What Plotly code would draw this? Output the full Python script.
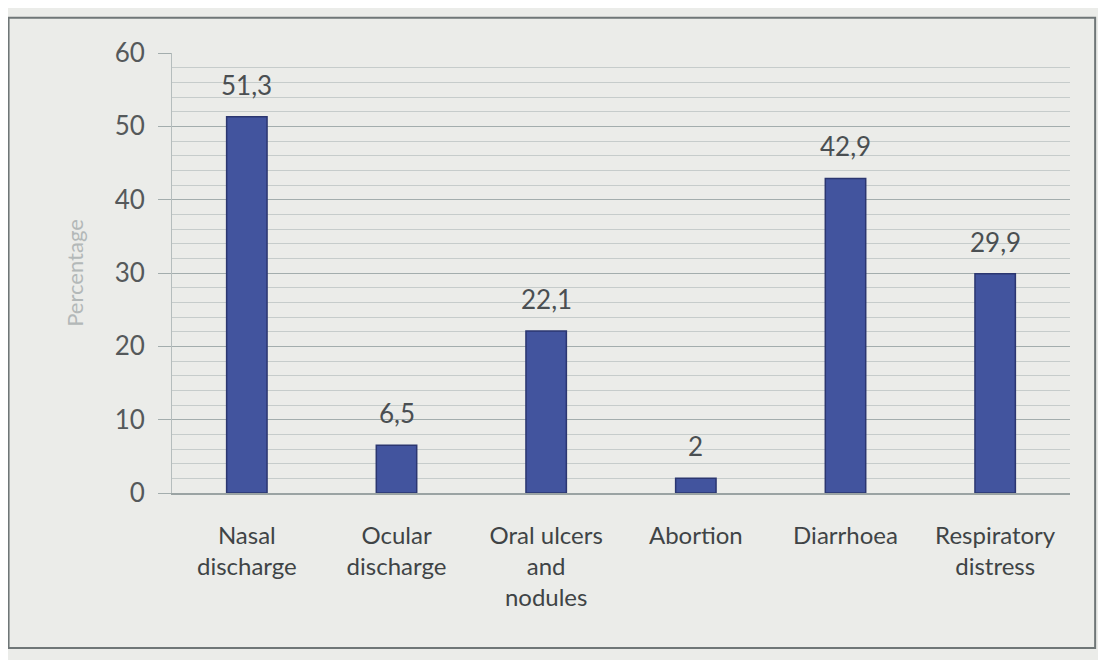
import plotly.graph_objects as go

categories = ["Nasal<br>discharge", "Ocular<br>discharge", "Oral ulcers<br>and<br>nodules",
              "Abortion", "Diarrhoea", "Respiratory<br>distress"]
values = [51.3, 6.5, 22.1, 2, 42.9, 29.9]
labels = ["51,3", "6,5", "22,1", "2", "42,9", "29,9"]
y_ticks = [0, 10, 20, 30, 40, 50, 60]

bg = "#ebece9"

fig = go.Figure(
    go.Bar(
        x=categories,
        y=values,
        width=0.27,
        marker=dict(color="#42549e", line=dict(color="#2b3670", width=1.5)),
        showlegend=False,
    )
)

# value labels sit well above the bars, like the original
for cat, val, lab in zip(categories, values, labels):
    fig.add_annotation(x=cat, y=val, text=lab, showarrow=False, yanchor="bottom",
                       yshift=14, font=dict(size=26, color="#4a4f52"))

# page body adds an 8px offset, margins account for it
fig.update_layout(
    width=1106,
    height=660,
    margin=dict(l=164, r=44, t=45, b=175),
    paper_bgcolor=bg,
    plot_bgcolor=bg,
    font=dict(family="Lato, sans-serif", color="#4a4f52"),
    shapes=[
        dict(type="rect", xref="paper", yref="paper", x0=-0.182, x1=1.028, y0=-0.352, y1=1.08,
             line=dict(color="#6f7677", width=2), fillcolor="rgba(0,0,0,0)", layer="below"),
    ],
)

fig.update_xaxes(
    showline=True,
    linecolor="#9aa3a3",
    linewidth=1.5,
    tickfont=dict(size=24, color="#3f4446"),
    ticks="outside",
    ticklen=20,
    tickcolor="rgba(0,0,0,0)",
)

fig.update_yaxes(
    range=[0, 60],
    tickvals=y_ticks,
    tickfont=dict(size=26, color="#55595b"),
    showgrid=True,
    gridcolor="#a3adad",
    gridwidth=1.2,
    minor=dict(dtick=2, showgrid=True, gridcolor="#c6cccb", gridwidth=1),
    showline=True,
    linecolor="#b5bdbd",
    ticks="outside",
    ticklen=13,
    tickcolor="#a3adad",
    ticklabelstandoff=8,
    zeroline=False,
    title=dict(text="Percentage", font=dict(size=22, color="#b3b8b8"), standoff=24),
)

fig.write_html("out.html")
